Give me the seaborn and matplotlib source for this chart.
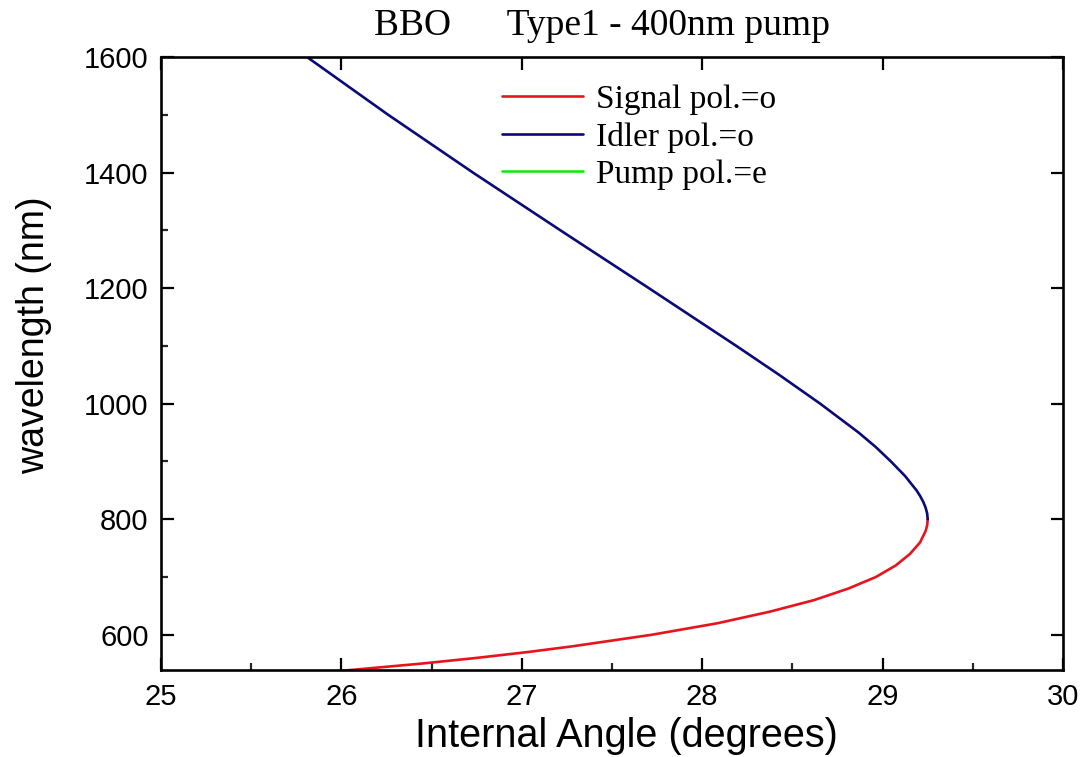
import numpy as np
import pandas as pd
import matplotlib
matplotlib.use("Agg")
import matplotlib.pyplot as plt
from matplotlib.ticker import MultipleLocator
from matplotlib.lines import Line2D
import seaborn as sns

# Phase-matching curve for BBO, type I, 400 nm pump (angle in degrees, wavelength in nm)
signal_nm = [535, 539, 550, 560, 570, 580, 600, 620, 640, 660, 680, 700, 720, 740, 760, 780, 790, 800]
signal_deg = [25.91, 26.05, 26.44, 26.75, 27.03, 27.28, 27.72, 28.085, 28.375, 28.62, 28.81,
              28.963, 29.073, 29.152, 29.208, 29.239, 29.2475, 29.25]

idler_nm = [800, 810, 820, 830, 840, 850, 875, 900, 925, 950, 1000, 1050, 1100,
            1200, 1300, 1400, 1500, 1600, 1610]
idler_deg = [29.25, 29.247, 29.2385, 29.2255, 29.2085, 29.188, 29.124, 29.046, 28.962,
             28.867, 28.654, 28.426, 28.189, 27.704, 27.214, 26.729, 26.259, 25.809, 25.765]

pump_nm = [400, 400]
pump_deg = [25.0, 30.0]

series_labels = ["Signal pol.=o", "Idler pol.=o", "Pump pol.=e"]
series_colors = ["#e8141c", "#0a0a78", "#19e619"]

x_ticks = [25, 26, 27, 28, 29, 30]
y_ticks = [600, 800, 1000, 1200, 1400, 1600]

sns.set_theme(style="ticks")
plt.rcParams["font.family"] = ["Liberation Sans", "DejaVu Sans"]
plt.rcParams["text.color"] = "black"
plt.rcParams["axes.labelcolor"] = "black"

fig = plt.figure(figsize=(10.86, 7.57), dpi=100)
ax = fig.add_axes([0.1483, 0.1149, 0.8305, 0.8098])

frames = [
    pd.DataFrame({"angle": signal_deg, "wl": signal_nm}),
    pd.DataFrame({"angle": idler_deg, "wl": idler_nm}),
    pd.DataFrame({"angle": pump_deg, "wl": pump_nm}),
]
for df, col in zip(frames, series_colors):
    sns.lineplot(data=df, x="angle", y="wl", sort=False, estimator=None,
                 color=col, linewidth=1.9, ax=ax)

ax.set_xlim(25, 30)
ax.set_ylim(539, 1600)
ax.set_xticks(x_ticks)
ax.set_yticks(y_ticks)
ax.xaxis.set_minor_locator(MultipleLocator(0.5))
ax.yaxis.set_minor_locator(MultipleLocator(100))

for s in ax.spines.values():
    s.set_linewidth(1.9)
    s.set_color("black")

ax.tick_params(which="major", direction="in", length=9, width=1.6,
               top=True, right=True, labelsize=21, pad=9, colors="black")
ax.tick_params(which="minor", direction="in", length=5, width=1.6,
               top=False, right=False, bottom=True, left=True)

ax.set_xlabel("Internal Angle (degrees)", fontsize=28.5, labelpad=5, x=0.5155)
ax.set_ylabel("wavelength (nm)", fontsize=27, labelpad=23, y=0.546)

fig.text(0.554, 0.966, "BBO      Type1 - 400nm pump", ha="center", va="center",
         fontsize=27, family="Liberation Serif")

handles = [Line2D([0], [0], color=c, linewidth=1.9) for c in series_colors]
fig.legend(handles, series_labels, loc="center left", bbox_to_anchor=(0.4622, 0.819),
           bbox_transform=fig.transFigure, frameon=False,
           prop={"family": "Liberation Serif", "size": 24},
           handlelength=2.43, handletextpad=0.39, labelspacing=0.21,
           borderpad=0, borderaxespad=0)

fig.savefig("out.png", dpi=100, facecolor="white")
